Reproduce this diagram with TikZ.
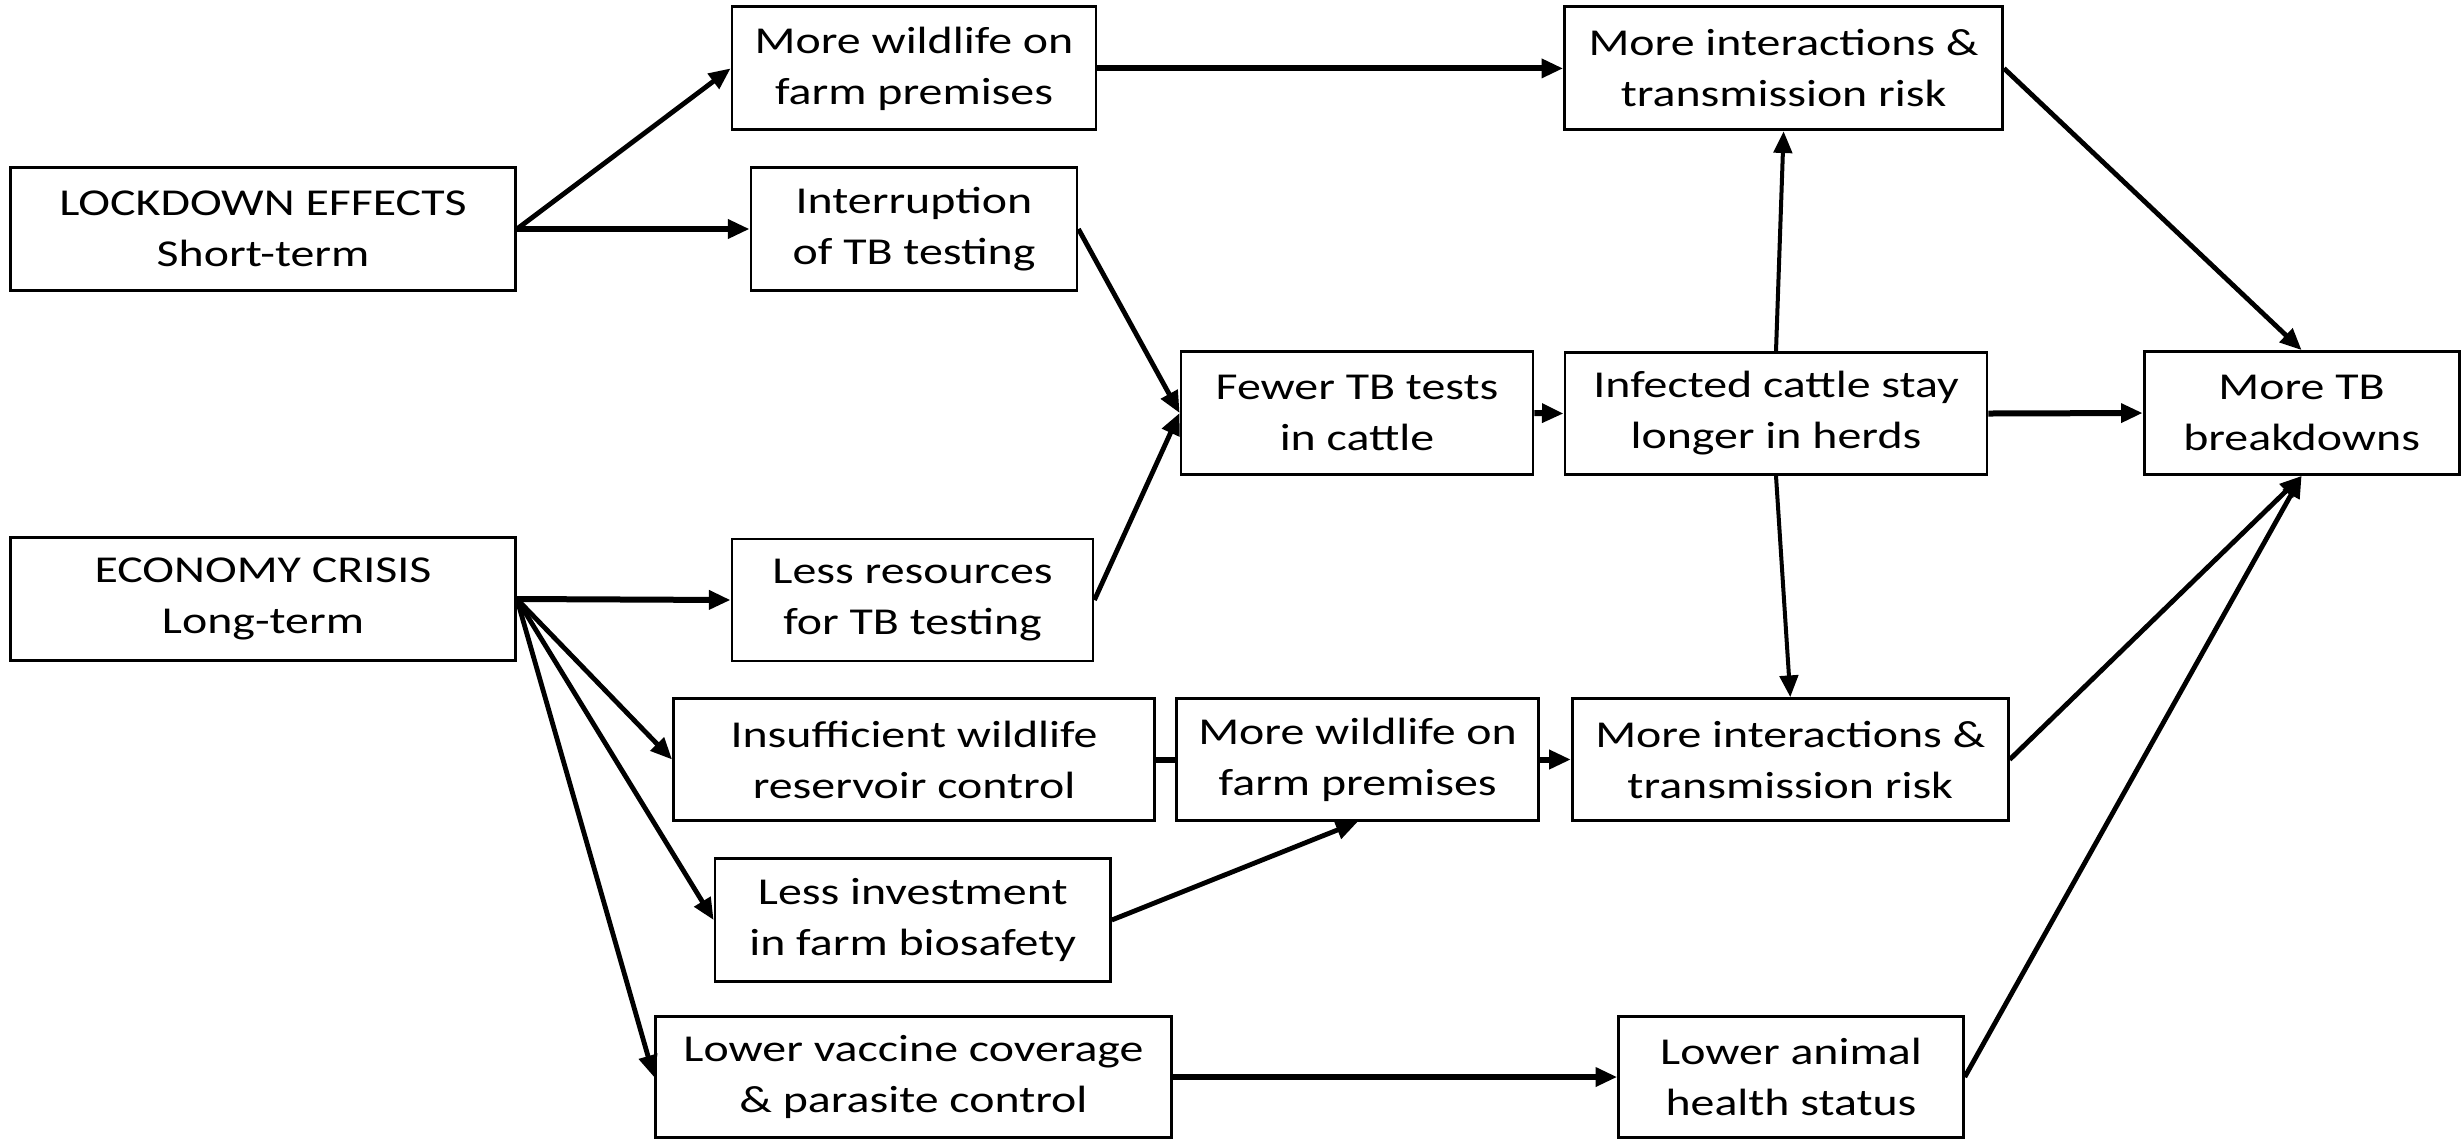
\documentclass[tikz,border=0pt]{standalone}
\usepackage{fontspec}
\setmainfont{Carlito}[FakeStretch=1.26]
\usetikzlibrary{arrows.meta}
\tikzset{
  box/.style={draw=black, line width=0.85pt, rectangle, inner sep=0pt, align=center,
    font=\fontsize{11.4}{15.3}\selectfont},
  conn/.style={line width=1.45pt, -{Triangle[length=6.5pt,width=5.5pt]}},
  hconn/.style={conn, line width=1.8pt},
  vconn/.style={conn, line width=1.2pt},
  plain/.style={line width=1.8pt},
}
\begin{document}
\begin{tikzpicture}[x=0.3pt,y=-0.3pt]
\useasboundingbox (0,0) rectangle (2461,1139);
\node[box, minimum width=151.5pt, minimum height=36.9pt] (lock) at (263,229) {LOCKDOWN EFFECTS\\Short-term};
\node[box, minimum width=109.2pt, minimum height=36.9pt] (wild1) at (914,68.4) {More wildlife on\\farm premises};
\node[box, minimum width=97.8pt, minimum height=36.9pt] (interr) at (914,229) {Interruption\\of TB testing};
\node[box, minimum width=131.4pt, minimum height=36.9pt] (inter1) at (1783.6,68.4) {More interactions \&\\transmission risk};
\node[box, minimum width=105.6pt, minimum height=36.9pt] (fewer) at (1357,413) {Fewer TB tests\\in cattle};
\node[box, minimum width=126.6pt, minimum height=36.6pt] (infect) at (1776,413.5) {Infected cattle stay\\longer in herds};
\node[box, minimum width=94.5pt, minimum height=36.9pt] (tb) at (2301.6,413) {More TB\\breakdowns};
\node[box, minimum width=151.5pt, minimum height=36.9pt] (econ) at (263,599) {ECONOMY CRISIS\\Long-term};
\node[box, minimum width=108.3pt, minimum height=36.6pt] (lessres) at (912.5,600) {Less resources\\for TB testing};
\node[box, minimum width=144.3pt, minimum height=36.6pt] (insuff) at (914,759.5) {Insufficient wildlife\\reservoir control};
\node[box, minimum width=108.6pt, minimum height=36.6pt] (wild2) at (1357.6,759.5) {More wildlife on\\farm premises};
\node[box, minimum width=130.8pt, minimum height=36.6pt] (inter2) at (1790.3,759.5) {More interactions \&\\transmission risk};
\node[box, minimum width=118.6pt, minimum height=36.9pt] (lessinv) at (912.7,920) {Less investment\\in farm biosafety};
\node[box, minimum width=154.8pt, minimum height=36.3pt] (vacc) at (913.4,1077) {Lower vaccine coverage\\\& parasite control};
\node[box, minimum width=103.4pt, minimum height=36.3pt] (lowanim) at (1791,1077) {Lower animal\\health status};
% connectors
\draw[conn] (lock.east) -- (wild1.west);
\draw[hconn] (lock.east) -- (interr.west);
\draw[conn] (interr.east) -- (fewer.west);
\draw[conn] (lessres.east) -- (fewer.west);
\draw[hconn] (fewer.east) -- (infect.west);
\draw[hconn] (infect.east) -- (tb.west);
\draw[vconn] (infect.north) -- (inter1.south);
\draw[vconn] (infect.south) -- (inter2.north);
\draw[hconn] (wild1.east) -- (inter1.west);
\draw[conn] (inter1.east) -- (tb.north);
\draw[hconn] (econ.east) -- (lessres.west);
\draw[conn] (econ.east) -- (insuff.west);
\draw[conn] (econ.east) -- (lessinv.west);
\draw[conn] (econ.east) -- (vacc.west);
\draw[plain] (insuff.east) -- (wild2.west);
\draw[conn] (lessinv.east) -- (wild2.south);
\draw[hconn] (wild2.east) -- (inter2.west);
\draw[conn] (inter2.east) -- (tb.south);
\draw[hconn] (vacc.east) -- (lowanim.west);
\draw[conn] (lowanim.east) -- (tb.south);
\end{tikzpicture}
\end{document}
